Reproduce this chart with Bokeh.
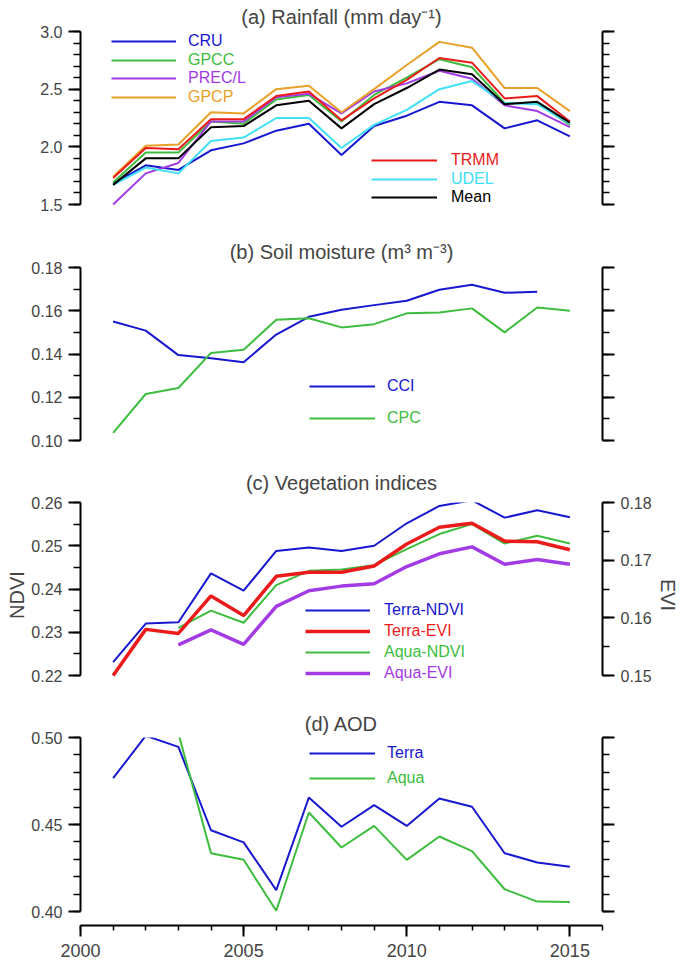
from bokeh.plotting import figure
from bokeh.models import (Range1d, LinearAxis, FixedTicker, CustomJSTickFormatter,
                          Legend, LegendItem)
from bokeh.layouts import column
from bokeh.embed import file_html
from bokeh.resources import INLINE

# ---------------- data ----------------
YEARS = list(range(2001, 2016))
YEARS_CCI = list(range(2001, 2015))
YEARS_AQUA = list(range(2003, 2016))

# (a) Rainfall (mm/day)
CRU = [1.68, 1.84, 1.80, 1.97, 2.03, 2.14, 2.20, 1.93, 2.18, 2.27, 2.39, 2.36, 2.16, 2.23, 2.09]
GPCC = [1.69, 1.95, 1.95, 2.22, 2.20, 2.41, 2.45, 2.22, 2.45, 2.60, 2.76, 2.69, 2.38, 2.38, 2.19]
PRECL = [1.50, 1.77, 1.86, 2.22, 2.22, 2.43, 2.46, 2.29, 2.48, 2.55, 2.66, 2.59, 2.36, 2.31, 2.17]
GPCP = [1.74, 2.01, 2.02, 2.30, 2.29, 2.50, 2.53, 2.30, 2.50, 2.71, 2.91, 2.86, 2.51, 2.51, 2.31]
TRMM = [1.73, 1.99, 1.98, 2.24, 2.24, 2.44, 2.48, 2.23, 2.42, 2.58, 2.77, 2.73, 2.42, 2.44, 2.22]
UDEL = [1.67, 1.82, 1.77, 2.05, 2.08, 2.25, 2.25, 1.99, 2.19, 2.32, 2.50, 2.57, 2.38, 2.37, 2.20]
MEAN = [1.67, 1.90, 1.90, 2.17, 2.18, 2.36, 2.40, 2.16, 2.37, 2.51, 2.67, 2.63, 2.37, 2.39, 2.21]

# (b) Soil moisture
CCI = [0.1550, 0.1508, 0.1395, 0.1380, 0.1362, 0.1490, 0.1572, 0.1605, 0.1626, 0.1646,
       0.1697, 0.1720, 0.1683, 0.1688]
CPC = [0.1035, 0.1215, 0.1243, 0.1405, 0.1420, 0.1558, 0.1565, 0.1523, 0.1538, 0.1588,
       0.1592, 0.1611, 0.1500, 0.1615, 0.1600]

# (c) Vegetation indices
TERRA_NDVI = [0.2231, 0.2320, 0.2323, 0.2436, 0.2396, 0.2488, 0.2496, 0.2488, 0.2500, 0.2552,
              0.2592, 0.2605, 0.2565, 0.2582, 0.2566]
TERRA_EVI = [0.1500, 0.1580, 0.1573, 0.1638, 0.1604, 0.1672, 0.1679, 0.1679, 0.1690, 0.1728,
             0.1757, 0.1764, 0.1733, 0.1732, 0.1718]
AQUA_NDVI = [0.2310, 0.2350, 0.2322, 0.2409, 0.2442, 0.2445, 0.2455, 0.2492, 0.2527, 0.2550,
             0.2505, 0.2523, 0.2505]
AQUA_EVI = [0.1553, 0.1579, 0.1554, 0.1620, 0.1647, 0.1655, 0.1659, 0.1689, 0.1711, 0.1723,
            0.1693, 0.1701, 0.1693]

# (d) AOD
TERRA_AOD = [0.4766, 0.5010, 0.4946, 0.4467, 0.4397, 0.4123, 0.4655, 0.4487, 0.4611, 0.4492,
             0.4649, 0.4602, 0.4335, 0.4282, 0.4257]
AQUA_AOD = [0.5024, 0.4335, 0.4297, 0.4004, 0.4569, 0.4368, 0.4492, 0.4297, 0.4431, 0.4347,
            0.4128, 0.4057, 0.4054]

TITLES = ["(a) Rainfall (mm day\u207b\u00b9)", "(b) Soil moisture (m\u00b3 m\u207b\u00b3)",
          "(c) Vegetation indices", "(d) AOD"]
X_MAJOR = [2000, 2005, 2010, 2015]

# ---------------- style ----------------
FONT = "Liberation Sans"
BLUE = "#1717cf"
GREEN = "#3dbd3d"
PURPLE = "#a23be4"
ORANGE = "#e8a128"
RED = "#ec1b1b"
CYAN = "#40e0f6"
BLACK = "#000000"

W = 684
FL = 80   # frame left (px)
FR = 82   # right border (frame right at 602)
LEG_H = 16


def frange(a, b, step):
    n = int(round((b - a) / step))
    return [round(a + i * step, 6) for i in range(n + 1)]


def style_y(ax, ticks, minor, digits, show_labels=True, bounds=None):
    ax.ticker = FixedTicker(ticks=ticks, minor_ticks=minor)
    ax.formatter = CustomJSTickFormatter(code="return tick.toFixed(%d);" % digits)
    ax.axis_line_width = 2
    ax.major_tick_line_width = 2
    ax.minor_tick_line_width = 1.5
    ax.major_tick_out = 12
    ax.major_tick_in = 0
    ax.minor_tick_out = 7
    ax.minor_tick_in = 0
    ax.major_label_text_font = FONT
    ax.major_label_text_font_size = "16px"
    ax.major_label_standoff = 6
    if not show_labels:
        ax.major_label_text_color = None
    if bounds is not None:
        ax.bounds = bounds


def make_fig(height, top, bottom, y_range, title, standoff):
    p = figure(width=W, height=height, x_range=Range1d(2000, 2016), y_range=y_range,
               output_backend="svg", toolbar_location=None,
               min_border_left=FL, min_border_right=FR,
               min_border_top=top, min_border_bottom=bottom,
               x_axis_location=None, y_axis_location="left")
    p.grid.visible = False
    p.outline_line_color = None
    p.background_fill_color = "white"
    p.border_fill_color = "white"
    p.title.text = title
    p.title.align = "center"
    p.title.text_font = FONT
    p.title.text_font_size = "20px"
    p.title.text_font_style = "normal"
    p.title.standoff = standoff
    return p


def add_legend(p, renderer, label, color, x_page, yc_page, frame_bottom_page, glyph_w, gap):
    h = LEG_H
    leg = Legend(items=[LegendItem(label=label, renderers=[renderer])],
                 location=(x_page - FL, frame_bottom_page - yc_page - h / 2),
                 glyph_width=glyph_w, glyph_height=h, label_height=h,
                 label_standoff=gap, padding=0, margin=0, spacing=0,
                 border_line_color=None, background_fill_alpha=0,
                 label_text_font=FONT, label_text_font_size="16px",
                 label_text_color=color)
    p.add_layout(leg)


# ---------------- (a) ----------------
# frame 31..210 px; 1.5 sits at 204 px, 6 px above the frame bottom
A_PX = 173.0 / 1.5
pa = make_fig(214, 31, 4, Range1d(1.5 - 6 / A_PX, 3.0), TITLES[0], 7)
style_y(pa.yaxis[0], frange(1.5, 3.0, 0.5), frange(1.5, 3.0, 0.1), 1, bounds=(1.5, 3.0))
ra = LinearAxis()
style_y(ra, frange(1.5, 3.0, 0.5), frange(1.5, 3.0, 0.1), 1, show_labels=False,
        bounds=(1.5, 3.0))
pa.add_layout(ra, "right")
A_BOTTOM = 210
series_a = [("CRU", CRU, BLUE), ("GPCC", GPCC, GREEN), ("PREC/L", PRECL, PURPLE),
            ("GPCP", GPCP, ORANGE), ("TRMM", TRMM, RED), ("UDEL", UDEL, CYAN),
            ("Mean", MEAN, BLACK)]
colors_a = dict((n, c) for n, _, c in series_a)
rend_a = {}
for name, vals, col in series_a:
    rend_a[name] = pa.line(YEARS, vals, line_color=col, line_width=2)
for i, name in enumerate(["CRU", "GPCC", "PREC/L", "GPCP"]):
    add_legend(pa, rend_a[name], name, colors_a[name], 111, [42, 60.5, 79, 97.5][i],
               A_BOTTOM, 65, 12)
for i, name in enumerate(["TRMM", "UDEL", "Mean"]):
    add_legend(pa, rend_a[name], name, colors_a[name], 371, [161, 179.5, 198][i],
               A_BOTTOM, 66, 14)

# ---------------- (b) ----------------
pb = make_fig(238, 53, 12, Range1d(0.10, 0.18), TITLES[1], 10)
style_y(pb.yaxis[0], frange(0.10, 0.18, 0.02), frange(0.10, 0.18, 0.01), 2)
rb = LinearAxis()
style_y(rb, frange(0.10, 0.18, 0.02), frange(0.10, 0.18, 0.01), 2, show_labels=False)
pb.add_layout(rb, "right")
B_BOTTOM = 440
r_cci = pb.line(YEARS_CCI, CCI, line_color=BLUE, line_width=2)
r_cpc = pb.line(YEARS, CPC, line_color=GREEN, line_width=2)
add_legend(pb, r_cci, "CCI", BLUE, 309, 387, B_BOTTOM, 66, 12)
add_legend(pb, r_cpc, "CPC", GREEN, 309, 419, B_BOTTOM, 66, 12)

# ---------------- (c) ----------------
# frame 502..687 px; 0.22 / 0.15 sit at 675 px
C_EXT = 12 / 173.0
pc = make_fig(238, 50, 3, Range1d(0.22 - 0.04 * C_EXT, 0.26), TITLES[2], 17)
pc.extra_y_ranges = {"evi": Range1d(0.15 - 0.03 * C_EXT, 0.18)}
style_y(pc.yaxis[0], frange(0.22, 0.26, 0.01), frange(0.22, 0.26, 0.005), 2, bounds=(0.22, 0.26))
pc.yaxis[0].axis_label = "NDVI"
pc.yaxis[0].axis_label_text_font = FONT
pc.yaxis[0].axis_label_text_font_size = "20px"
pc.yaxis[0].axis_label_text_font_style = "normal"
pc.yaxis[0].axis_label_standoff = 0
rc = LinearAxis(y_range_name="evi")
style_y(rc, frange(0.15, 0.18, 0.01), frange(0.15, 0.18, 0.005), 2, bounds=(0.15, 0.18))
rc.axis_label = "EVI"
rc.axis_label_text_font = FONT
rc.axis_label_text_font_size = "20px"
rc.axis_label_text_font_style = "normal"
rc.axis_label_standoff = 2
pc.add_layout(rc, "right")
C_BOTTOM = 687
r_tn = pc.line(YEARS, TERRA_NDVI, line_color=BLUE, line_width=2)
r_an = pc.line(YEARS_AQUA, AQUA_NDVI, line_color=GREEN, line_width=2)
r_ae = pc.line(YEARS_AQUA, AQUA_EVI, line_color=PURPLE, line_width=3.5, y_range_name="evi")
r_te = pc.line(YEARS, TERRA_EVI, line_color=RED, line_width=3.5, y_range_name="evi")
add_legend(pc, r_tn, "Terra-NDVI", BLUE, 305, 611, C_BOTTOM, 65, 14)
add_legend(pc, r_te, "Terra-EVI", RED, 305, 632, C_BOTTOM, 65, 14)
add_legend(pc, r_an, "Aqua-NDVI", GREEN, 305, 653, C_BOTTOM, 65, 14)
add_legend(pc, r_ae, "Aqua-EVI", PURPLE, 305, 674, C_BOTTOM, 65, 14)

# ---------------- (d) ----------------
# frame 737..925 px; 0.40 sits at 911 px so the x axis stands off the data
pd_ = make_fig(274, 47, 39, Range1d(0.40 - 0.1 * 14 / 174, 0.50), TITLES[3], 6)
style_y(pd_.yaxis[0], frange(0.40, 0.50, 0.05), frange(0.40, 0.50, 0.01), 2, bounds=(0.40, 0.50))
rd = LinearAxis()
style_y(rd, frange(0.40, 0.50, 0.05), frange(0.40, 0.50, 0.01), 2, show_labels=False,
        bounds=(0.40, 0.50))
pd_.add_layout(rd, "right")
xa = LinearAxis(ticker=FixedTicker(ticks=X_MAJOR, minor_ticks=list(range(2000, 2017))))
xa.formatter = CustomJSTickFormatter(code="return tick.toFixed(0);")
xa.axis_line_width = 2
xa.major_tick_line_width = 2
xa.minor_tick_line_width = 1.5
xa.major_tick_out = 11
xa.major_tick_in = 0
xa.minor_tick_out = 5
xa.minor_tick_in = 0
xa.major_label_text_font = FONT
xa.major_label_text_font_size = "18px"
xa.major_label_standoff = 7
pd_.add_layout(xa, "below")
D_BOTTOM = 925
r_ta = pd_.line(YEARS, TERRA_AOD, line_color=BLUE, line_width=2)
r_aa = pd_.line(YEARS_AQUA, AQUA_AOD, line_color=GREEN, line_width=2)
add_legend(pd_, r_ta, "Terra", BLUE, 309, 754, D_BOTTOM, 66, 12)
add_legend(pd_, r_aa, "Aqua", GREEN, 309, 779, D_BOTTOM, 66, 12)

layout = column(pa, pb, pc, pd_, spacing=0)
open("out.html", "w").write(file_html(layout, INLINE))
